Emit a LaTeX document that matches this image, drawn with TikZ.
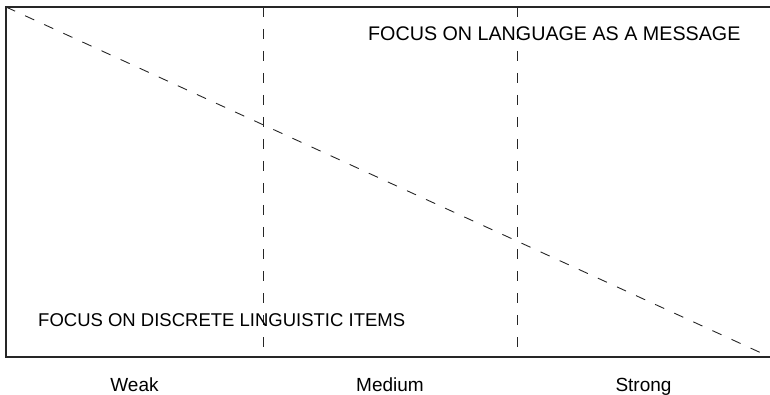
\documentclass[tikz,border=0pt]{standalone}
\usepackage{fontspec}
\setmainfont{Liberation Sans}
\usetikzlibrary{positioning}

\begin{document}
\begin{tikzpicture}[
  x=1pt, y=-1pt,
  frame/.style={line width=1.1pt, black!85},
  divider/.style={line width=1pt, black!85, dash pattern=on 10pt off 12pt},
  trend/.style={line width=0.9pt, black!85, dash pattern=on 10pt off 11pt},
  focus/.style={anchor=base west, inner sep=0pt},
  level/.style={font=\fontsize{19}{23}\selectfont, anchor=base, inner sep=0pt}
]
  \useasboundingbox (0,0) rectangle (770,395);

  % Frame corners
  \coordinate (tl) at (6,7);
  \coordinate (bl) at (6,357);
  \coordinate (tr) at (770,7);
  \coordinate (br) at (770,357);
  \draw[frame] (tr) -- (tl) -- (bl) -- (br);

  % Dividers between the three levels
  \coordinate (d1t) at (263,7);
  \coordinate (d1b) at (263,357);
  \coordinate (d2t) at (517,7);
  \coordinate (d2b) at (517,357);
  \draw[divider] (d1t) -- (d1b);
  \draw[divider] (d2t) -- (d2b);

  % Trend line
  \draw[trend] (tl) -- (br);

  % Focus labels
  \node[focus, font=\fontsize{19.7}{23}\selectfont] (msg) at (368,41) {FOCUS ON LANGUAGE AS A MESSAGE};
  \node[focus, font=\fontsize{18.5}{22}\selectfont] (items) at (38,326) {FOCUS ON DISCRETE LINGUISTIC ITEMS};

  % Levels
  \node[level] (weak) at (134.5,391) {Weak};
  \node[level] (medium) at (390,391) {Medium};
  \node[level] (strong) at (643.5,391) {Strong};
\end{tikzpicture}
\end{document}
